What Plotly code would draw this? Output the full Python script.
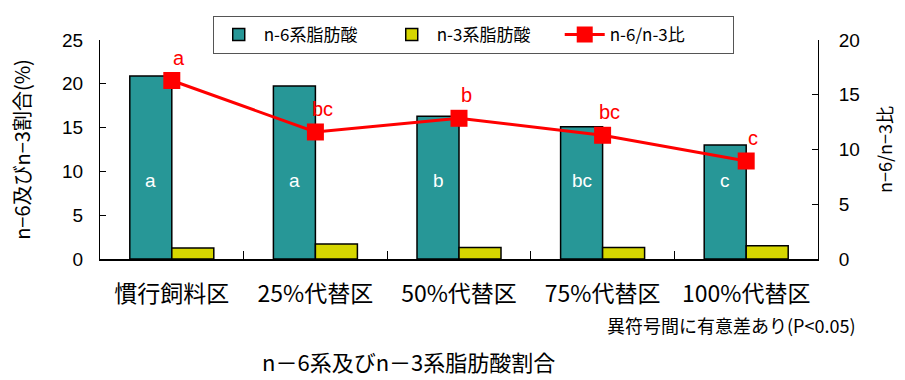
import plotly.graph_objects as go

categories = ["慣行飼料区", "25%代替区", "50%代替区", "75%代替区", "100%代替区"]
n6_values = [20.9, 19.75, 16.3, 15.1, 13.0]
n3_values = [1.25, 1.7, 1.3, 1.3, 1.5]
ratio_values = [16.3, 11.6, 12.85, 11.3, 8.95]
bar_letters = ["a", "a", "b", "bc", "c"]
ratio_letters = ["a", "bc", "b", "bc", "c"]
left_ticks = [0, 5, 10, 15, 20, 25]
right_ticks = [0, 5, 10, 15, 20]

JP = "Noto Sans CJK JP"
NUM = "Liberation Sans, Arial"

fig = go.Figure()
fig.add_trace(go.Bar(
    x=categories, y=n6_values, name="n-6系脂肪酸",
    marker=dict(color="#279797", line=dict(color="#000000", width=1.5)),
))
fig.add_trace(go.Bar(
    x=categories, y=n3_values, name="n-3系脂肪酸",
    marker=dict(color="#D6D600", line=dict(color="#000000", width=1.5)),
))
fig.add_trace(go.Scatter(
    x=categories, y=ratio_values, name="n-6/n-3比", yaxis="y2",
    mode="lines+markers",
    line=dict(color="#FF0000", width=3),
    marker=dict(symbol="square", size=17, color="#FF0000"),
))

annotations = []
for c, t in zip(categories, bar_letters):
    annotations.append(dict(x=c, y=9, xref="x", yref="y", text=t, showarrow=False,
                            xshift=-21, font=dict(family=NUM, size=19, color="#FFFFFF")))
for c, v, t in zip(categories, ratio_values, ratio_letters):
    annotations.append(dict(x=c, y=v, xref="x", yref="y2", text=t, showarrow=False,
                            xshift=7, yshift=23, font=dict(family=NUM, size=20, color="#FF0000")))
annotations.append(dict(x=1.056, y=-0.30, xref="paper", yref="paper", xanchor="right",
                        yanchor="middle", showarrow=False, text="異符号間に有意差あり(P<0.05)",
                        font=dict(family=JP, size=18, color="#000000")))
annotations.append(dict(x=0.43, y=-0.548, xref="paper", yref="paper", xanchor="center",
                        yanchor="bottom", showarrow=False, text="n－6系及びn－3系脂肪酸割合",
                        font=dict(family=JP, size=22, color="#000000")))

fig.update_layout(
    width=905, height=380,
    margin=dict(l=100, r=87, t=40, b=121),
    paper_bgcolor="#FFFFFF", plot_bgcolor="#FFFFFF",
    barmode="group", bargap=0.415, bargroupgap=0,
    showlegend=True,
    legend=dict(orientation="h", x=0.157, y=1.11, xanchor="left", yanchor="top",
                bordercolor="#555555", borderwidth=1, bgcolor="#FFFFFF",
                font=dict(family=JP, size=17, color="#000000"),
                traceorder="normal", itemwidth=40, entrywidth=118, entrywidthmode="pixels"),
    xaxis=dict(type="category", showline=True, linecolor="#000000", linewidth=1.5,
               ticks="inside", tickson="boundaries", ticklen=8, tickcolor="#000000",
               showgrid=False, ticklabelstandoff=14,
               tickfont=dict(family=JP, size=23, color="#000000")),
    yaxis=dict(range=[0, 25], tickvals=left_ticks, showline=True, linecolor="#000000",
               linewidth=1, ticks="inside", ticklen=6, tickcolor="#000000",
               showgrid=False, zeroline=False, ticklabelstandoff=12,
               tickfont=dict(family=NUM, size=19, color="#000000"),
               title=dict(text="n−6及びn−3割合(%)", standoff=26,
                          font=dict(family=JP, size=20, color="#000000"))),
    yaxis2=dict(range=[0, 20], tickvals=right_ticks, overlaying="y", side="right",
                showline=True, linecolor="#000000", linewidth=1, ticks="inside",
                ticklen=6, tickcolor="#000000", showgrid=False, zeroline=False,
                ticklabelstandoff=16,
                tickfont=dict(family=NUM, size=19, color="#000000"),
                title=dict(text="n−6/n−3比", standoff=20,
                           font=dict(family=JP, size=18, color="#000000"))),
    annotations=annotations,
)

fig.write_html("out.html")
